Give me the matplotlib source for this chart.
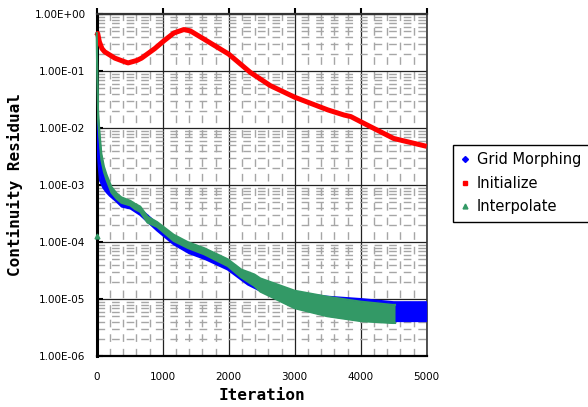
import numpy as np
import matplotlib
matplotlib.use("Agg")
import matplotlib.pyplot as plt
from matplotlib.lines import Line2D
from matplotlib.ticker import LogLocator, MultipleLocator, FuncFormatter, NullFormatter

# --- data (iteration, residual envelope) ---
morph_iter = [0, 15, 30, 50, 100, 150, 200, 290, 380, 510, 660, 915, 1165, 1400,
              1650, 1985, 2290, 2500, 2750, 3000, 3490, 4000, 4500, 5000]
morph_upper = [3.0e-2, 1.0e-2, 5.0e-3, 3.5e-3, 1.8e-3, 1.1e-3, 8.5e-4, 6.8e-4, 5.2e-4,
               4.7e-4, 3.8e-4, 2.1e-4, 1.2e-4, 8.5e-5, 6.5e-5, 4.3e-5, 2.5e-5, 1.9e-5,
               1.5e-5, 1.3e-5, 1.1e-5, 1.0e-5, 8.8e-6, 8.8e-6]
morph_lower = [1.2e-2, 4.0e-3, 2.2e-3, 1.2e-3, 9.0e-4, 7.5e-4, 6.5e-4, 5.3e-4, 4.2e-4,
               3.9e-4, 3.0e-4, 1.6e-4, 9.2e-5, 6.4e-5, 5.0e-5, 3.3e-5, 1.8e-5, 1.36e-5,
               1.2e-5, 9.8e-6, 6.5e-6, 5.0e-6, 4.1e-6, 4.1e-6]

init_iter = [0, 15, 40, 80, 120, 275, 400, 475, 610, 680, 880, 1015, 1170, 1320, 1420,
             1620, 2000, 2330, 2630, 3000, 3500, 3750, 3850, 4000, 4500, 5000]
init_val = [0.42, 0.46, 0.33, 0.25, 0.22, 0.17, 0.15, 0.14, 0.155, 0.17, 0.25, 0.34,
            0.47, 0.54, 0.51, 0.37, 0.20, 0.095, 0.056, 0.035, 0.021, 0.017, 0.016,
            0.013, 0.0066, 0.0048]

interp_iter = [0, 8, 20, 40, 70, 110, 147, 223, 300, 375, 510, 580, 660, 770, 915, 1165,
               1380, 1630, 1985, 2190, 2390, 2480, 3000, 3490, 4000, 4480, 4520]
interp_upper = [0.47, 0.09, 0.02, 9e-3, 3.6e-3, 2.1e-3, 1.55e-3, 9.3e-4, 7.2e-4, 6.1e-4,
                5.3e-4, 4.7e-4, 4.2e-4, 2.8e-4, 2.25e-4, 1.35e-4, 1.0e-4, 7.8e-5, 5.0e-5,
                3.3e-5, 2.7e-5, 2.3e-5, 1.4e-5, 1.1e-5, 9.0e-6, 7.9e-6, 7.9e-6]
interp_lower = [0.35, 0.07, 0.015, 7e-3, 2.8e-3, 1.7e-3, 1.25e-3, 7.4e-4, 5.8e-4, 4.9e-4,
                4.4e-4, 3.8e-4, 3.4e-4, 2.2e-4, 1.85e-4, 1.05e-4, 7.9e-5, 6.1e-5, 3.8e-5,
                2.4e-5, 1.7e-5, 1.35e-5, 6.9e-6, 5.0e-6, 4.1e-6, 3.8e-6, 3.8e-6]
interp_outlier_iter = [0]
interp_outlier_val = [1.3e-4]

x_ticks = [0, 1000, 2000, 3000, 4000, 5000]

BLUE = "#0000FF"
RED = "#FF0000"
GREEN = "#339966"

fig = plt.figure(figsize=(5.88, 4.07), dpi=100)
ax = fig.add_axes([96.7 / 588, 1 - 356 / 407, 330 / 588, (356 - 14.3) / 407])

# blue band (Grid Morphing)
ax.fill_between(morph_iter, morph_lower, morph_upper, color=BLUE, lw=0, zorder=3)
ax.plot(morph_iter, morph_upper, color=BLUE, lw=1.5, zorder=3)
ax.plot(morph_iter, morph_lower, color=BLUE, lw=1.5, zorder=3)

# red line (Initialize)
ax.plot(init_iter, init_val, color=RED, lw=3.6, zorder=4, clip_on=False,
        solid_capstyle="butt", solid_joinstyle="round")

# green band (Interpolate)
ax.fill_between(interp_iter, interp_lower, interp_upper, color=GREEN, lw=0, zorder=5)
ax.plot(interp_iter, interp_upper, color=GREEN, lw=1.5, zorder=5, clip_on=False)
ax.plot(interp_iter, interp_lower, color=GREEN, lw=1.5, zorder=5)
ax.plot(interp_outlier_iter, interp_outlier_val, ls="none", marker="^", ms=3.5,
        color=GREEN, zorder=5, clip_on=False)

# axes
ax.set_yscale("log")
ax.set_ylim(1e-6, 1)
ax.set_xlim(0, 5000)
ax.set_xticks(x_ticks)
ax.xaxis.set_minor_locator(MultipleLocator(200))
ax.yaxis.set_major_locator(LogLocator(base=10, numticks=10))
ax.yaxis.set_minor_locator(LogLocator(base=10, subs=np.arange(2, 10), numticks=10))
ax.yaxis.set_major_formatter(FuncFormatter(lambda v, p: f"{v:.2E}"))
ax.yaxis.set_minor_formatter(NullFormatter())

ax.set_axisbelow(True)
ax.grid(which="major", color="#222222", lw=0.9, ls="-")
ax.grid(which="minor", color="#a6a6a6", lw=1.0, ls=(0, (5.5, 5)))

ax.tick_params(axis="y", which="major", direction="in", length=4, width=1.5,
               labelsize=7.5, pad=8, colors="black")
ax.tick_params(axis="y", which="minor", length=0)
ax.tick_params(axis="x", which="major", direction="out", length=4, width=1.5,
               top=True, bottom=False, labelbottom=True, labelsize=7.5, pad=7.5)
ax.tick_params(axis="x", which="minor", length=0)

ax.spines["left"].set_linewidth(2.2)
ax.spines["left"].set_color("black")
ax.spines["bottom"].set_linewidth(1.6)
ax.spines["bottom"].set_color("black")
ax.spines["top"].set_linewidth(1.6)
ax.spines["top"].set_color("#333333")
ax.spines["right"].set_linewidth(1.2)
ax.spines["right"].set_color("#333333")

# axis titles
fig.text(15 / 588, 1 - 185 / 407, "Continuity Residual", rotation=90,
         ha="center", va="center", family="DejaVu Sans Mono", weight="bold",
         fontsize=11.5)
fig.text(261.7 / 588, 1 - 396 / 407, "Iteration", ha="center", va="center",
         family="DejaVu Sans Mono", weight="bold", fontsize=11.5)

# legend
handles = [
    Line2D([], [], ls="none", marker="D", ms=3, color=BLUE),
    Line2D([], [], ls="none", marker="s", ms=3.5, color=RED),
    Line2D([], [], ls="none", marker="^", ms=3.5, color=GREEN),
]
labels = ["Grid Morphing", "Initialize", "Interpolate"]
leg = fig.legend(handles, labels, loc="upper left",
                 bbox_to_anchor=(453 / 588, 1 - 145 / 407), borderaxespad=0,
                 fontsize=10.5, frameon=True, fancybox=False, framealpha=1,
                 edgecolor="black", borderpad=0.5, handlelength=0.6,
                 handletextpad=0.54, labelspacing=0.58)
leg.get_frame().set_linewidth(1.0)

fig.savefig("out.png", dpi=100)
